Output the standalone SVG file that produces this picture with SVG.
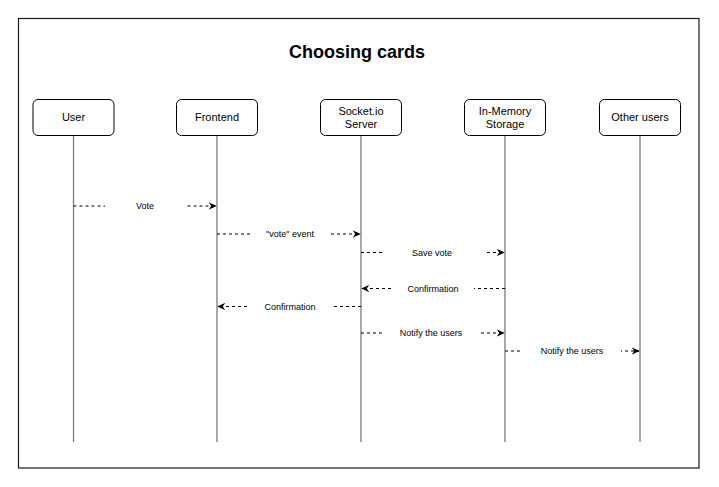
<svg xmlns="http://www.w3.org/2000/svg" width="719" height="487" viewBox="0 0 719 487">
  <style>
    .frame { fill: #ffffff; stroke: #1a1a1a; stroke-width: 1.2; }
    .box { fill: #ffffff; stroke: #000000; stroke-width: 1; }
    .life { stroke: #7a7a7a; stroke-width: 1.3; fill: none; }
    .msg { stroke: #000000; stroke-width: 1; stroke-dasharray: 3 3; fill: none; }
    .lblbg { fill: #ffffff; stroke: none; }
    .title { font-family: "Liberation Sans", Arial, sans-serif; font-size: 18px; font-weight: bold; fill: #000; text-anchor: middle; }
    .name { font-family: "Liberation Sans", Arial, sans-serif; font-size: 11px; fill: #000; text-anchor: middle; }
    .lbl { font-family: "Liberation Sans", Arial, sans-serif; font-size: 9px; fill: #000; text-anchor: middle; }
  </style>
  <defs>
    <marker id="arr" viewBox="0 0 10 10" refX="9" refY="5" markerWidth="8" markerHeight="8" markerUnits="userSpaceOnUse" orient="auto">
      <path d="M0,0.5 L10,5 L0,9.5 L3,5 Z" fill="#000000"/>
    </marker>
  </defs>
  <rect width="719" height="487" fill="#ffffff"/>
  <rect class="frame" x="18.5" y="18.5" width="680.5" height="449.5"/>
  <text class="title" x="357" y="58">Choosing cards</text>

  <g id="lifelines">
    <line class="life" x1="73.5" y1="135" x2="73.5" y2="442"/>
    <line class="life" x1="217" y1="135" x2="217" y2="442"/>
    <line class="life" x1="361" y1="135" x2="361" y2="442"/>
    <line class="life" x1="505" y1="135" x2="505" y2="442"/>
    <line class="life" x1="640" y1="135" x2="640" y2="442"/>
  </g>

  <g id="node-user">
    <rect class="box" x="33" y="99.5" width="81" height="36" rx="5"/>
    <text class="name" x="73.5" y="121">User</text>
  </g>
  <g id="node-frontend">
    <rect class="box" x="176.5" y="99.5" width="81" height="36" rx="5"/>
    <text class="name" x="217" y="121">Frontend</text>
  </g>
  <g id="node-socket">
    <rect class="box" x="320.5" y="99.5" width="81" height="36" rx="5"/>
    <text class="name" x="361" y="114.5">Socket.io</text>
    <text class="name" x="361" y="128">Server</text>
  </g>
  <g id="node-storage">
    <rect class="box" x="464.5" y="99.5" width="81" height="36" rx="5"/>
    <text class="name" x="505" y="114.5">In-Memory</text>
    <text class="name" x="505" y="128">Storage</text>
  </g>
  <g id="node-others">
    <rect class="box" x="599.5" y="99.5" width="81" height="36" rx="5"/>
    <text class="name" x="640" y="121">Other users</text>
  </g>

  <g id="connectors">
    <line class="msg" x1="73.5" y1="206" x2="216" y2="206" marker-end="url(#arr)"/>
    <rect class="lblbg" x="105" y="199" width="81" height="14"/>
    <text class="lbl" x="145" y="209">Vote</text>

    <line class="msg" x1="217" y1="234" x2="360" y2="234" marker-end="url(#arr)"/>
    <rect class="lblbg" x="250" y="227" width="81" height="14"/>
    <text class="lbl" x="290" y="237">"vote" event</text>

    <line class="msg" x1="361" y1="252.5" x2="504" y2="252.5" marker-end="url(#arr)"/>
    <rect class="lblbg" x="383" y="245.5" width="101" height="14"/>
    <text class="lbl" x="432" y="255.5">Save vote</text>

    <line class="msg" x1="505" y1="288.5" x2="362" y2="288.5" marker-end="url(#arr)"/>
    <rect class="lblbg" x="392" y="281.5" width="82" height="14"/>
    <text class="lbl" x="433" y="291.5">Confirmation</text>

    <line class="msg" x1="361" y1="306.5" x2="218" y2="306.5" marker-end="url(#arr)"/>
    <rect class="lblbg" x="248" y="299.5" width="83" height="14"/>
    <text class="lbl" x="290" y="309.5">Confirmation</text>

    <line class="msg" x1="361" y1="333" x2="504" y2="333" marker-end="url(#arr)"/>
    <rect class="lblbg" x="383" y="326" width="98" height="14"/>
    <text class="lbl" x="431" y="336">Notify the users</text>

    <line class="msg" x1="505" y1="351" x2="639" y2="351" marker-end="url(#arr)"/>
    <rect class="lblbg" x="523" y="344" width="98" height="14"/>
    <text class="lbl" x="572" y="354">Notify the users</text>
  </g>
</svg>
